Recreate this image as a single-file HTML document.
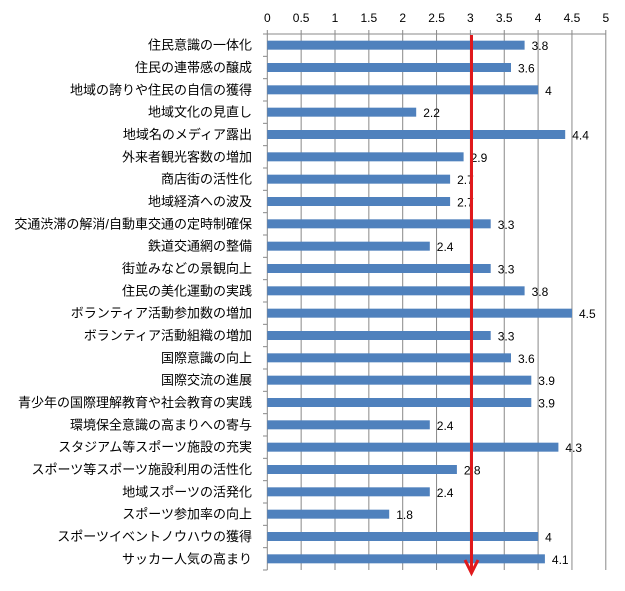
<!DOCTYPE html>
<html><head><meta charset="utf-8"><style>
html,body{margin:0;padding:0;background:#fff;}
svg text{font-family:"Liberation Sans","Noto Sans CJK JP",sans-serif;font-size:12px;fill:#000;}
.l{text-anchor:end;font-size:13px}
</style></head><body>
<svg width="625" height="586" xmlns="http://www.w3.org/2000/svg">
<g stroke="#888" stroke-width="1">
<line x1="267.3" y1="30" x2="267.3" y2="570"/><line x1="301.15" y1="30" x2="301.15" y2="570"/><line x1="335" y1="30" x2="335" y2="570"/><line x1="368.85" y1="30" x2="368.85" y2="570"/><line x1="402.7" y1="30" x2="402.7" y2="570"/><line x1="436.55" y1="30" x2="436.55" y2="570"/><line x1="470.4" y1="30" x2="470.4" y2="570"/><line x1="504.25" y1="30" x2="504.25" y2="570"/><line x1="538.1" y1="30" x2="538.1" y2="570"/><line x1="571.95" y1="30" x2="571.95" y2="570"/><line x1="605.8" y1="30" x2="605.8" y2="570"/>
<line x1="263" y1="34" x2="605.8" y2="34"/>
<line x1="263" y1="56.33" x2="267.3" y2="56.33"/><line x1="263" y1="78.67" x2="267.3" y2="78.67"/><line x1="263" y1="101" x2="267.3" y2="101"/><line x1="263" y1="123.33" x2="267.3" y2="123.33"/><line x1="263" y1="145.67" x2="267.3" y2="145.67"/><line x1="263" y1="168" x2="267.3" y2="168"/><line x1="263" y1="190.33" x2="267.3" y2="190.33"/><line x1="263" y1="212.67" x2="267.3" y2="212.67"/><line x1="263" y1="235" x2="267.3" y2="235"/><line x1="263" y1="257.33" x2="267.3" y2="257.33"/><line x1="263" y1="279.67" x2="267.3" y2="279.67"/><line x1="263" y1="302" x2="267.3" y2="302"/><line x1="263" y1="324.33" x2="267.3" y2="324.33"/><line x1="263" y1="346.67" x2="267.3" y2="346.67"/><line x1="263" y1="369" x2="267.3" y2="369"/><line x1="263" y1="391.33" x2="267.3" y2="391.33"/><line x1="263" y1="413.67" x2="267.3" y2="413.67"/><line x1="263" y1="436" x2="267.3" y2="436"/><line x1="263" y1="458.33" x2="267.3" y2="458.33"/><line x1="263" y1="480.67" x2="267.3" y2="480.67"/><line x1="263" y1="503" x2="267.3" y2="503"/><line x1="263" y1="525.33" x2="267.3" y2="525.33"/><line x1="263" y1="547.67" x2="267.3" y2="547.67"/><line x1="263" y1="570" x2="267.3" y2="570"/>
</g>
<g text-anchor="middle">
<text x="267.3" y="22">0</text><text x="301.15" y="22">0.5</text><text x="335" y="22">1</text><text x="368.85" y="22">1.5</text><text x="402.7" y="22">2</text><text x="436.55" y="22">2.5</text><text x="470.4" y="22">3</text><text x="504.25" y="22">3.5</text><text x="538.1" y="22">4</text><text x="571.95" y="22">4.5</text><text x="605.8" y="22">5</text>
</g>
<g fill="#4f81bd">
<g transform="translate(0,45.17)"><rect x="267.3" y="-4.5" width="257.3" height="9" fill="#4f81bd"/><text x="531.6" y="5">3.8</text><text class="l" x="252" y="4.5">住民意識の一体化</text></g>
<g transform="translate(0,67.5)"><rect x="267.3" y="-4.5" width="243.7" height="9" fill="#4f81bd"/><text x="518" y="5">3.6</text><text class="l" x="252" y="4.5">住民の連帯感の醸成</text></g>
<g transform="translate(0,89.83)"><rect x="267.3" y="-4.5" width="270.8" height="9" fill="#4f81bd"/><text x="545.1" y="5">4</text><text class="l" x="252" y="4.5">地域の誇りや住民の自信の獲得</text></g>
<g transform="translate(0,112.17)"><rect x="267.3" y="-4.5" width="148.9" height="9" fill="#4f81bd"/><text x="423.2" y="5">2.2</text><text class="l" x="252" y="4.5">地域文化の見直し</text></g>
<g transform="translate(0,134.5)"><rect x="267.3" y="-4.5" width="297.9" height="9" fill="#4f81bd"/><text x="572.2" y="5">4.4</text><text class="l" x="252" y="4.5">地域名のメディア露出</text></g>
<g transform="translate(0,156.83)"><rect x="267.3" y="-4.5" width="196.3" height="9" fill="#4f81bd"/><text x="470.6" y="5">2.9</text><text class="l" x="252" y="4.5">外来者観光客数の増加</text></g>
<g transform="translate(0,179.17)"><rect x="267.3" y="-4.5" width="182.8" height="9" fill="#4f81bd"/><text x="457.1" y="5">2.7</text><text class="l" x="252" y="4.5">商店街の活性化</text></g>
<g transform="translate(0,201.5)"><rect x="267.3" y="-4.5" width="182.8" height="9" fill="#4f81bd"/><text x="457.1" y="5">2.7</text><text class="l" x="252" y="4.5">地域経済への波及</text></g>
<g transform="translate(0,223.83)"><rect x="267.3" y="-4.5" width="223.4" height="9" fill="#4f81bd"/><text x="497.7" y="5">3.3</text><text class="l" x="252" y="4.5">交通渋滞の解消/自動車交通の定時制確保</text></g>
<g transform="translate(0,246.17)"><rect x="267.3" y="-4.5" width="162.5" height="9" fill="#4f81bd"/><text x="436.8" y="5">2.4</text><text class="l" x="252" y="4.5">鉄道交通網の整備</text></g>
<g transform="translate(0,268.5)"><rect x="267.3" y="-4.5" width="223.4" height="9" fill="#4f81bd"/><text x="497.7" y="5">3.3</text><text class="l" x="252" y="4.5">街並みなどの景観向上</text></g>
<g transform="translate(0,290.83)"><rect x="267.3" y="-4.5" width="257.3" height="9" fill="#4f81bd"/><text x="531.6" y="5">3.8</text><text class="l" x="252" y="4.5">住民の美化運動の実践</text></g>
<g transform="translate(0,313.17)"><rect x="267.3" y="-4.5" width="304.7" height="9" fill="#4f81bd"/><text x="579" y="5">4.5</text><text class="l" x="252" y="4.5">ボランティア活動参加数の増加</text></g>
<g transform="translate(0,335.5)"><rect x="267.3" y="-4.5" width="223.4" height="9" fill="#4f81bd"/><text x="497.7" y="5">3.3</text><text class="l" x="252" y="4.5">ボランティア活動組織の増加</text></g>
<g transform="translate(0,357.83)"><rect x="267.3" y="-4.5" width="243.7" height="9" fill="#4f81bd"/><text x="518" y="5">3.6</text><text class="l" x="252" y="4.5">国際意識の向上</text></g>
<g transform="translate(0,380.17)"><rect x="267.3" y="-4.5" width="264" height="9" fill="#4f81bd"/><text x="538.3" y="5">3.9</text><text class="l" x="252" y="4.5">国際交流の進展</text></g>
<g transform="translate(0,402.5)"><rect x="267.3" y="-4.5" width="264" height="9" fill="#4f81bd"/><text x="538.3" y="5">3.9</text><text class="l" x="252" y="4.5">青少年の国際理解教育や社会教育の実践</text></g>
<g transform="translate(0,424.83)"><rect x="267.3" y="-4.5" width="162.5" height="9" fill="#4f81bd"/><text x="436.8" y="5">2.4</text><text class="l" x="252" y="4.5">環境保全意識の高まりへの寄与</text></g>
<g transform="translate(0,447.17)"><rect x="267.3" y="-4.5" width="291.1" height="9" fill="#4f81bd"/><text x="565.4" y="5">4.3</text><text class="l" x="252" y="4.5">スタジアム等スポーツ施設の充実</text></g>
<g transform="translate(0,469.5)"><rect x="267.3" y="-4.5" width="189.6" height="9" fill="#4f81bd"/><text x="463.9" y="5">2.8</text><text class="l" x="252" y="4.5">スポーツ等スポーツ施設利用の活性化</text></g>
<g transform="translate(0,491.83)"><rect x="267.3" y="-4.5" width="162.5" height="9" fill="#4f81bd"/><text x="436.8" y="5">2.4</text><text class="l" x="252" y="4.5">地域スポーツの活発化</text></g>
<g transform="translate(0,514.17)"><rect x="267.3" y="-4.5" width="121.9" height="9" fill="#4f81bd"/><text x="396.2" y="5">1.8</text><text class="l" x="252" y="4.5">スポーツ参加率の向上</text></g>
<g transform="translate(0,536.5)"><rect x="267.3" y="-4.5" width="270.8" height="9" fill="#4f81bd"/><text x="545.1" y="5">4</text><text class="l" x="252" y="4.5">スポーツイベントノウハウの獲得</text></g>
<g transform="translate(0,558.83)"><rect x="267.3" y="-4.5" width="277.6" height="9" fill="#4f81bd"/><text x="551.9" y="5">4.1</text><text class="l" x="252" y="4.5">サッカー人気の高まり</text></g>
</g>
<line x1="471.5" y1="35" x2="471.5" y2="572" stroke="#e0191c" stroke-width="3"/>
<polyline points="465,560 471.5,573 478,560" fill="none" stroke="#e0191c" stroke-width="3"/>
</svg>
</body></html>
